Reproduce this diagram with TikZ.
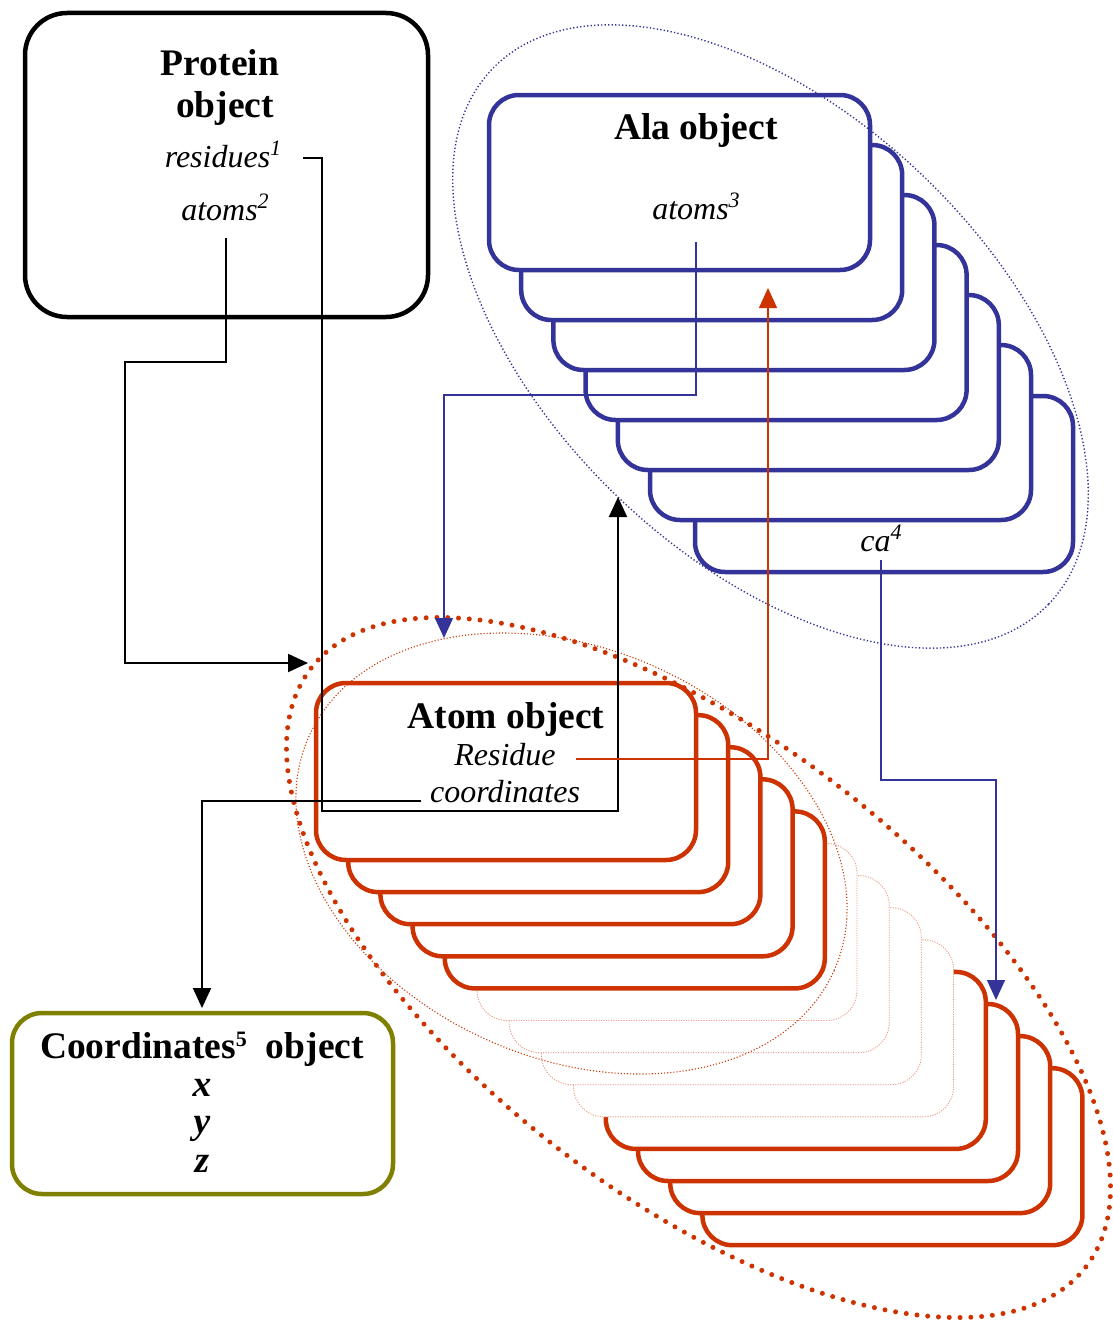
\documentclass[tikz,border=0pt]{standalone}
\usepackage{fontspec}
\setmainfont{Liberation Serif}
\usetikzlibrary{arrows.meta}

\definecolor{alablue}{HTML}{333399}
\definecolor{atomred}{HTML}{CC3300}
\definecolor{coordolive}{HTML}{808000}
\definecolor{ghostred}{HTML}{E8A08A}

\newcommand\objtitle{\fontsize{37.5}{40}\selectfont\bfseries}
\newcommand\objfield{\fontsize{32}{36}\selectfont\itshape}
\newcommand\sups[1]{\raisebox{12pt}{\fontsize{22}{22}\selectfont #1}}

\begin{document}
\begin{tikzpicture}[x=1pt, y=-1pt,
  every node/.style={inner sep=0pt, outer sep=0pt},
  objbox/.style={draw, fill=white, line width=4.5pt, rounded corners=30pt},
  alabox/.style={objbox, draw=alablue, minimum width=381pt, minimum height=175pt},
  atombox/.style={objbox, draw=atomred, minimum width=380pt, minimum height=177pt},
  ghostbox/.style={atombox, draw=ghostred, line width=0.9pt, dash pattern=on 1.2pt off 1.3pt},
  title/.style={font=\objtitle, anchor=base},
  field/.style={font=\objfield, anchor=base},
  tip/.style={-{Triangle[length=20pt,width=18pt]}},
  blackwire/.style={tip, draw=black, line width=2pt},
  bluewire/.style={tip, draw=alablue, line width=1.5pt},
  redwire/.style={tip, draw=atomred, line width=1.5pt},
  bluehalo/.style={draw=alablue, line width=1.4pt, dash pattern=on 1.3pt off 2.2pt},
  redhalo/.style={draw=atomred, line width=1.1pt, dash pattern=on 1.1pt off 2pt},
  bigredhalo/.style={draw=atomred, line width=5pt, line cap=round, dash pattern=on 0pt off 10.8pt}
]
\useasboundingbox (0,0) rectangle (1112,1322);

% Protein object
\node[objbox, draw=black, rounded corners=42pt, minimum width=403pt, minimum height=304pt] (protein) at (226.5,165) {};

% stack of Ala residue objects, drawn back to front
\node[alabox, minimum width=378pt, minimum height=176pt] (ala6) at (884,484) {};
\foreach \k in {5,4,3,2,1,0}
  \node[alabox] (ala\k) at ({679.5+32.2*\k},{182.5+50*\k}) {};

% stack of Atom objects, drawn back to front
\foreach \k in {12,11,10,9}
  \node[atombox] (atom\k) at ({506+32.2*\k},{771.5+32.1*\k}) {};
\foreach \k in {8,7,6,5}
  \node[ghostbox] (atom\k) at ({506+32.2*\k},{771.5+32.1*\k}) {};
\foreach \k in {4,3,2,1,0}
  \node[atombox] (atom\k) at ({506+32.2*\k},{771.5+32.1*\k}) {};

% Coordinates object
\node[objbox, draw=coordolive, minimum width=381pt, minimum height=181pt] (coords) at (202.5,1103.5) {};

% grouping ellipses
\draw[bluehalo, shift={(770.5,336.5)}, rotate=-43.9] (0,0) ellipse [x radius=386pt, y radius=221.5pt];
\draw[redhalo, shift={(571.5,853.5)}, rotate=-24] (0,0) ellipse [x radius=287.5pt, y radius=204.6pt];
\draw[bigredhalo, shift={(698.5,967.5)}, rotate=-37.7] (0,0) ellipse [x radius=489.6pt, y radius=229.1pt];

% texts
\node[title] (protein-name) at (220,75) {Protein};
\node[title] (protein-obj) at (225,117) {object};
\node[field] (residues) at (223,167) {residues\sups{1}};
\node[field] (protein-atoms) at (225,220) {atoms\sups{2}};

\node[title] (ala-name) at (696,139) {Ala object};
\node[field] (ala-atoms) at (696,219) {atoms\sups{3}};
\node[field] (ala-ca) at (881,551) {ca\sups{4}};

\node[title] (atom-name) at (506,728) {Atom object};
\node[field] (atom-res) at (505,765) {Residue};
\node[field] (atom-coords) at (505,802) {coordinates};

\node[title] (coords-name) at (202,1058) {Coordinates\sups{5}\hspace{19pt}object};
\node[title, font=\objtitle\itshape] (coord-x) at (202,1096) {x};
\node[title, font=\objtitle\itshape] (coord-y) at (202,1133) {y};
\node[title, font=\objtitle\itshape] (coord-z) at (202,1172) {z};

% connector end points
\coordinate (residues-out) at (303,158);
\coordinate (residues-bend) at (322,811);
\coordinate (residues-in) at (618,497);
\coordinate (patoms-out) at (226,238);
\coordinate (patoms-bend) at (125,362);
\coordinate (patoms-in) at (308,663);
\coordinate (coords-out) at (421,801);
\coordinate (coords-in) at (202,1008);
\coordinate (aatoms-out) at (696,242);
\coordinate (aatoms-bend) at (696,395);
\coordinate (aatoms-in) at (444,638);
\coordinate (ca-out) at (881,560);
\coordinate (ca-bend) at (996,780);
\coordinate (ca-in) at (996,1000);
\coordinate (res-out) at (576,759);
\coordinate (res-in) at (768,288);

% connectors
\draw[blackwire] (residues-out) -| (residues-bend) -| (residues-in);
\draw[blackwire] (patoms-out) |- (patoms-bend) |- (patoms-in);
\draw[blackwire] (coords-out) -| (coords-in);
\draw[bluewire] (aatoms-out) -- (aatoms-bend) -| (aatoms-in);
\draw[bluewire] (ca-out) |- (ca-bend) -- (ca-in);
\draw[redwire] (res-out) -| (res-in);
\end{tikzpicture}
\end{document}
